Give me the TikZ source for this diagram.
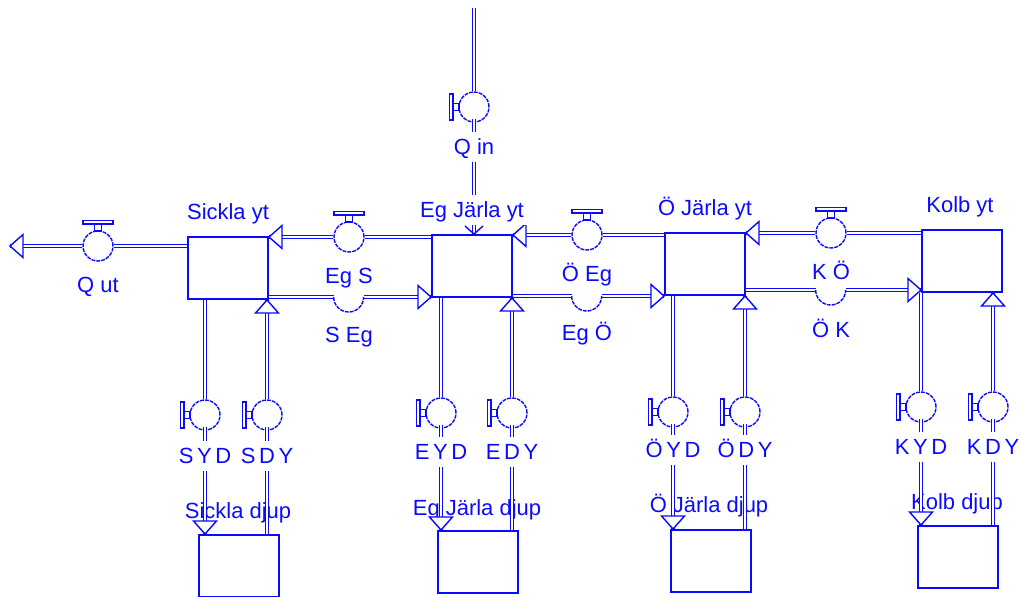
\documentclass[tikz,border=0pt]{standalone}
\usepackage{fontspec}
\setmainfont{Liberation Sans}
\usepackage{xcolor}
\usepackage{tikz}
\usetikzlibrary{positioning, calc}

\definecolor{flowblue}{RGB}{10,10,255}

\tikzset{
  stock/.style={draw=flowblue, line width=1.15pt, minimum width=1.6cm, minimum height=1.24cm, inner sep=0pt},
  valve/.style={circle, draw=flowblue, fill=white, line width=0.8pt, minimum size=0.6cm, inner sep=0pt, dash pattern=on 2.2pt off 0.6pt},
  halfvalve/.style={circle, minimum size=0.6cm, inner sep=0pt},
  halfarc/.style={draw=flowblue, line width=0.8pt, dash pattern=on 2.2pt off 0.6pt},
  pipe/.style={draw=flowblue, line width=0.95pt, double=white, double distance=0.9pt},
  lab/.style={text=flowblue, font=\fontsize{12.5}{15}\selectfont, inner sep=1.7pt, text height=11.3pt, text depth=2.7pt},
  labw/.style={lab, fill=white},
  handletop/.pic={
    \draw[flowblue, fill=white, line width=0.8pt] (-3.5,-15) rectangle (3.5,-22);
    \draw[flowblue, fill=white, line width=0.8pt] (-15,-22) rectangle (15,-25.5);
  },
  handleleft/.pic={
    \draw[flowblue, fill=white, line width=0.8pt] (-15,-3.5) rectangle (-21,3.5);
    \draw[flowblue, fill=white, line width=0.8pt] (-21,-13) rectangle (-24.5,13);
  },
  opentip/.pic={\draw[flowblue, fill=white, line width=0.8pt] (0,0) -- (-13,-11.5) -- (-13,11.5) -- cycle;},
  vtip/.pic={\draw[flowblue, line width=0.8pt] (-8,-9) -- (0,0) -- (-8,9);}
}

\begin{document}
\begin{tikzpicture}[x=0.02cm, y=-0.02cm]
\useasboundingbox (0,0) rectangle (1021,596);

% surface and deep stocks
\node[stock] (syt) at (228,268) {};
\node[stock] (eyt) at (472,266) {};
\node[stock] (oyt) at (705,264) {};
\node[stock] (kyt) at (962,261) {};
\node[stock] (sdj) at (239,566) {};
\node[stock] (edj) at (478,562) {};
\node[stock] (odj) at (711,561) {};
\node[stock] (kdj) at (958,557) {};

\node[lab] (sdjlab) at (238,511) {Sickla djup};
\node[lab] (edjlab) at (477,508) {Eg Järla djup};
\node[lab] (odjlab) at (709,505) {Ö Järla djup};
\node[lab] (kdjlab) at (957,502) {Kolb djup};

% valves
\node[valve] (qut) at (98,246) {};
\node[valve] (qin) at (474,107) {};
\node[valve] (egs) at (349,237) {};
\node[valve] (oeg) at (587,235) {};
\node[valve] (ko) at (831,233) {};
\node[halfvalve] (seg) at (349,297) {};
\node[halfvalve] (ego) at (587,296) {};
\node[halfvalve] (ok) at (831,290) {};
\node[valve] (syd) at (205,415) {};
\node[valve] (sdy) at (267,415) {};
\node[valve] (eyd) at (441,413) {};
\node[valve] (edy) at (512,413) {};
\node[valve] (oyd) at (673,412) {};
\node[valve] (ody) at (745,412) {};
\node[valve] (kyd) at (921,407) {};
\node[valve] (kdy) at (993,407) {};

% in and out
\coordinate (qintop) at (474,8);
\coordinate (qutend) at (10,246);
\draw[pipe] (qintop) -- (qin.north);
\draw[pipe] ($(qin.south)+(0,-4)$) -- (qin |- eyt.north);
\pic[rotate=-90] at (qin |- eyt.north) {vtip};
\pic at (qin) {handleleft};
\draw[pipe] (qut -| syt.west) -- (qut.east);
\draw[pipe] (qut.west) -- (qutend);
\pic[rotate=180] at (qutend) {opentip};
\pic at (qut) {handletop};

% flows between surface stocks
\foreach \up/\dn/\lft/\rgt in {egs/seg/s/e, oeg/ego/e/o, ko/ok/o/k} {
  \draw[pipe] (\up -| \rgt yt.west) -- (\up.east);
  \draw[pipe] (\up.west) -- (\up -| \lft yt.east);
  \pic[rotate=180] at (\up -| \lft yt.east) {opentip};
  \pic at (\up) {handletop};
  \draw[pipe] (\dn -| \lft yt.east) -- (\dn.west);
  \draw[pipe] (\dn.east) -- (\dn -| \rgt yt.west);
  \pic at (\dn -| \rgt yt.west) {opentip};
  \draw[halfarc] (\dn.west) arc[start angle=180, end angle=360, radius=0.3cm];
}

% flows between surface and deep
\foreach \col/\ly/\ta/\tb in {s/456/S\,Y\,D/S\,D\,Y, e/452/E\,Y\,D/E\,D\,Y, o/450/Ö\,Y\,D/Ö\,D\,Y, k/447/K\,Y\,D/K\,D\,Y} {
  \draw[pipe] (\col yd |- \col yt.south) -- (\col yd.north);
  \draw[pipe] ($(\col yd.south)+(0,-4)$) -- (\col yd |- \col dj.north);
  \pic[rotate=-90] at (\col yd |- \col dj.north) {opentip};
  \draw[pipe] (\col dy |- \col dj.north) -- ($(\col dy.south)+(0,-4)$);
  \draw[pipe] (\col dy.north) -- (\col dy |- \col yt.south);
  \pic[rotate=90] at (\col dy |- \col yt.south) {opentip};
  \pic at (\col yd) {handleleft};
  \pic at (\col dy) {handleleft};
  \node[labw] (\col ydlab) at (\col yd |- 0,\ly) {\ta};
  \node[labw] (\col dylab) at (\col dy |- 0,\ly) {\tb};
}

% names
\node[labw] (sytlab) at (228,212) {Sickla yt};
\node[labw] (eytlab) at (472,210) {Eg Järla yt};
\node[labw] (oytlab) at (705,208) {Ö Järla yt};
\node[labw] (kytlab) at (960,205) {Kolb yt};
\node[labw] (qinlab) at (474,147) {Q in};
\node[lab] (qutlab) at (98,285) {Q ut};
\node[lab] (egslab) at (349,276) {Eg S};
\node[lab] (seglab) at (349,335) {S Eg};
\node[lab] (oeglab) at (587,274) {Ö Eg};
\node[lab] (egolab) at (587,333) {Eg Ö};
\node[lab] (kolab) at (831,272) {K Ö};
\node[lab] (oklab) at (831,330) {Ö K};
\end{tikzpicture}
\end{document}
